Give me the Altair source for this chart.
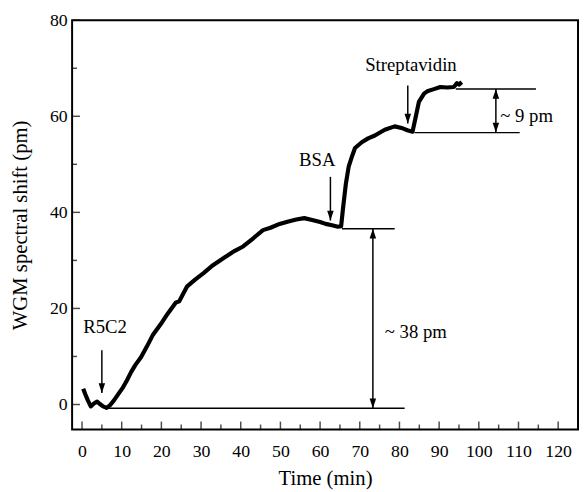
import altair as alt
import pandas as pd

# ---- main sensor trace (time in min, shift in pm) ----
time = [0.3, 0.8, 1.5, 2.2, 3.0, 3.8, 4.5, 5.3, 6.2, 7.0, 8.0, 9.0, 10.2, 11.3,
        12.4, 13.5, 14.9, 16.3, 17.8, 19.9, 21.5, 23.6, 24.5, 26.5, 28.5, 30.7,
        33.0, 35.7, 38.5, 40.6, 43.0, 45.6, 47.5, 49.8, 52.0, 54.0, 56.0, 58.0,
        60.0, 61.4, 63.0, 64.5, 65.3, 65.8, 66.5, 67.2, 68.1, 68.8, 70.5, 72.1,
        73.8, 76.3, 78.8, 80.8, 82.0, 83.3, 84.0, 84.9, 86.2, 87.0, 88.5, 90.3,
        92.0, 93.7, 94.5, 95.0, 95.7]
shift = [3.3, 2.2, 0.8, -0.4, 0.2, 0.6, 0.1, -0.4, -0.7, -0.2, 0.8, 2.0, 3.4, 5.0,
         6.8, 8.3, 9.9, 12.0, 14.4, 16.8, 18.8, 21.2, 21.5, 24.6, 26.0, 27.4,
         29.0, 30.5, 32.0, 32.9, 34.5, 36.3, 36.8, 37.6, 38.1, 38.5, 38.8, 38.4,
         38.0, 37.6, 37.3, 37.0, 37.1, 41.0, 46.0, 49.5, 51.8, 53.4, 54.6, 55.4,
         56.0, 57.2, 57.9, 57.5, 57.1, 56.8, 59.5, 63.0, 64.7, 65.2, 65.6, 66.1,
         66.0, 66.1, 66.9, 66.6, 67.1]

# ---- horizontal reference lines ----
h_y = [-0.8, 36.6, 56.6, 65.7]
h_x1 = [6.3, 65.5, 83.8, 94.2]
h_x2 = [81.3, 78.8, 110.3, 114.4]

# ---- double-headed span arrows ----
span_x = [73.3, 104.3]
span_lo = [-0.8, 56.6]
span_hi = [36.6, 65.7]
span_text = ["~ 38 pm", "~ 9 pm"]
span_text_x = [76.3, 105.4]
span_text_y = [15.0, 60.0]

# ---- injection arrows ----
arrow_x = [5.0, 62.6, 82.1]
arrow_top = [11.3, 47.4, 66.4]
arrow_tip = [2.4, 38.3, 58.5]
label_text = ["R5C2", "BSA", "Streptavidin"]
label_x = [5.8, 59.3, 82.9]
label_y = [16.1, 50.8, 70.6]

# ---- axis ticks ----
x_major = list(range(0, 121, 10))
x_minor = list(range(5, 120, 10))
y_major = [0, 20, 40, 60, 80]
y_minor = [10, 30, 50, 70]

FONT = "Liberation Serif"
W, H = 513, 415
xs = alt.Scale(domain=[-2.5, 125], nice=False, zero=False)
ys = alt.Scale(domain=[-5.2, 80], nice=False, zero=False)

X_AX = alt.Axis(values=x_major, domain=False, ticks=False, grid=False,
                labelFont=FONT, labelFontSize=18, labelColor="black",
                labelPadding=13, titleFont=FONT, titleFontSize=21,
                titleFontWeight="normal", titleColor="black", titlePadding=8)
Y_AX = alt.Axis(values=y_major, domain=False, ticks=False, grid=False,
                labelFont=FONT, labelFontSize=18, labelColor="black",
                labelPadding=5, titleFont=FONT, titleFontSize=21,
                titleFontWeight="normal", titleColor="black", titlePadding=19)
XT = "Time (min)"
YT = "WGM spectral shift (pm)"


def X(f):
    return alt.X(f, scale=xs, axis=X_AX, title=XT)


def Y(f):
    return alt.Y(f, scale=ys, axis=Y_AX, title=YT)


curve_df = pd.DataFrame({"t": time, "s": shift})
h_df = pd.DataFrame({"y": h_y, "x1": h_x1, "x2": h_x2})
span_df = pd.DataFrame({"x": span_x, "lo": span_lo, "hi": span_hi})
span_txt_df = pd.DataFrame({"x": span_text_x, "y": span_text_y, "txt": span_text})
arrow_df = pd.DataFrame({"x": arrow_x, "top": arrow_top, "tip": arrow_tip})
lab_df = pd.DataFrame({"x": label_x, "y": label_y, "txt": label_text})

DOWN = "M-1.1,-3.3L1.1,-3.3L0,0Z"
UP = "M-1.1,3.3L1.1,3.3L0,0Z"

curve = alt.Chart(curve_df).mark_line(color="black", strokeWidth=4.2,
                                      strokeJoin="round").encode(
    x=X("t:Q"), y=Y("s:Q"))

hl = alt.Chart(h_df).mark_rule(color="black", strokeWidth=1.5).encode(
    x=X("x1:Q"), x2="x2:Q", y=Y("y:Q"))

span_rule = alt.Chart(span_df).mark_rule(color="black", strokeWidth=1.5).encode(
    x=X("x:Q"), y=Y("lo:Q"), y2="hi:Q")
span_up = alt.Chart(span_df).mark_point(shape=UP, filled=True, color="black",
                                        size=36, opacity=1).encode(
    x=X("x:Q"), y=Y("hi:Q"))
span_dn = alt.Chart(span_df).mark_point(shape=DOWN, filled=True, color="black",
                                        size=36, opacity=1).encode(
    x=X("x:Q"), y=Y("lo:Q"))
span_lbl = alt.Chart(span_txt_df).mark_text(font=FONT, fontSize=19, align="left",
                                            baseline="middle", color="black").encode(
    x=X("x:Q"), y=Y("y:Q"), text="txt:N")

arr_rule = alt.Chart(arrow_df).mark_rule(color="black", strokeWidth=1.5).encode(
    x=X("x:Q"), y=Y("top:Q"), y2="tip:Q")
arr_head = alt.Chart(arrow_df).mark_point(shape=DOWN, filled=True, color="black",
                                          size=36, opacity=1).encode(
    x=X("x:Q"), y=Y("tip:Q"))
arr_lbl = alt.Chart(lab_df).mark_text(font=FONT, fontSize=19, align="center",
                                      baseline="middle", color="black").encode(
    x=X("x:Q"), y=Y("y:Q"), text="txt:N")

xt_major = alt.Chart(pd.DataFrame({"v": x_major})).mark_tick(
    orient="vertical", color="black", size=8, thickness=1.5).encode(
    x=X("v:Q"), y=alt.value(H - 4))
xt_minor = alt.Chart(pd.DataFrame({"v": x_minor})).mark_tick(
    orient="vertical", color="black", size=5, thickness=1.5).encode(
    x=X("v:Q"), y=alt.value(H - 2.5))
yt_major = alt.Chart(pd.DataFrame({"v": y_major})).mark_tick(
    orient="horizontal", color="black", size=8, thickness=1.5).encode(
    y=Y("v:Q"), x=alt.value(4))
yt_minor = alt.Chart(pd.DataFrame({"v": y_minor})).mark_tick(
    orient="horizontal", color="black", size=5, thickness=1.5).encode(
    y=Y("v:Q"), x=alt.value(2.5))

chart = alt.layer(
    curve, hl, span_rule, span_up, span_dn, span_lbl,
    arr_rule, arr_head, arr_lbl, xt_major, xt_minor, yt_major, yt_minor
).properties(
    width=W, height=H,
    autosize=alt.AutoSizeParams(type="none"),
    padding={"left": 65, "top": 9, "right": 1, "bottom": 60},
    background="white",
).configure_view(stroke="black", strokeWidth=2)

chart.save("out.html", embed_options={"renderer": "svg", "actions": False})
